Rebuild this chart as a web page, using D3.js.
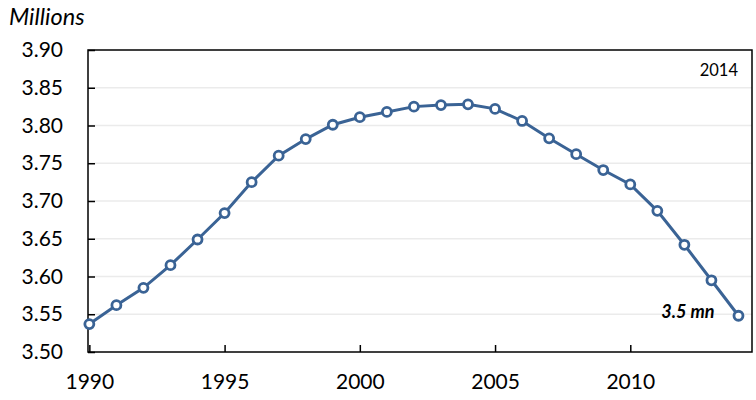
<!DOCTYPE html>
<html>
<head>
<meta charset="utf-8">
<script src="https://cdn.jsdelivr.net/npm/d3@7"></script>
<style>
body { margin: 0; background: #fff; }
text { font-family: Lato, "Open Sans", sans-serif; fill: #000; }
</style>
</head>
<body>
<div id="chart"></div>
<script>
// data
const years = [1990, 1991, 1992, 1993, 1994, 1995, 1996, 1997, 1998, 1999, 2000, 2001,
  2002, 2003, 2004, 2005, 2006, 2007, 2008, 2009, 2010, 2011, 2012, 2013, 2014];
const population = [3.537, 3.562, 3.585, 3.615, 3.649, 3.684, 3.725, 3.760, 3.782, 3.801, 3.811, 3.818,
  3.825, 3.827, 3.828, 3.822, 3.806, 3.783, 3.762, 3.741, 3.722, 3.687, 3.642, 3.595, 3.548];
const yTicks = [3.50, 3.55, 3.60, 3.65, 3.70, 3.75, 3.80, 3.85, 3.90];
const xTicks = [1990, 1995, 2000, 2005, 2010];
const unitLabel = "Millions";
const yearLabel = "2014";
const endLabel = "3.5 mn";

const margin = {top: 50, right: 4, bottom: 48, left: 88},
width = 756 - margin.left - margin.right,
height = 400 - margin.top - margin.bottom;

const svg = d3.select("#chart")
.append("svg")
.attr("width", 756)
.attr("height", 400);

const g = svg.append("g")
.attr("transform", `translate(${margin.left},${margin.top})`);

const x = d3.scaleLinear()
.domain([1989.95, 2014.5])
.range([0, width]);

const y = d3.scaleLinear()
.domain([3.5, 3.9])
.range([height, 0]);

// gridlines
g.selectAll(".grid")
.data(yTicks.slice(1, -1))
.join("line")
.attr("x1", 0)
.attr("x2", width)
.attr("y1", d => y(d))
.attr("y2", d => y(d))
.attr("stroke", "#ebebeb")
.attr("stroke-width", 1.5);

// y axis: ticks pointing inwards
const yAxis = g.append("g")
.call(d3.axisLeft(y).tickValues(yTicks).tickFormat(d3.format(".2f")).tickSizeInner(-7).tickSizeOuter(0).tickPadding(25));
yAxis.select(".domain").remove();
yAxis.selectAll("line").attr("stroke", "#000").attr("stroke-width", 1.5);
yAxis.selectAll("text").style("font-size", "21px").attr("fill", "#000");

// x axis
const xAxis = g.append("g")
.attr("transform", `translate(0, ${height})`)
.call(d3.axisBottom(x).tickValues(xTicks).tickFormat(d3.format("d")).tickSizeInner(-7).tickSizeOuter(0).tickPadding(22));
xAxis.select(".domain").remove();
xAxis.selectAll("line").attr("stroke", "#000").attr("stroke-width", 1.5);
xAxis.selectAll("text").style("font-size", "21px").attr("fill", "#000");

// frame
g.append("rect")
.attr("x", 0)
.attr("y", 0)
.attr("width", width)
.attr("height", height)
.attr("fill", "none")
.attr("stroke", "#000")
.attr("stroke-width", 1.5);

const data = years.map((d, i) => ({year: d, value: population[i]}));

const line = d3.line()
.x(d => x(d.year))
.y(d => y(d.value));

g.append("path")
.datum(data)
.attr("d", line)
.attr("fill", "none")
.attr("stroke", "#3a6395")
.attr("stroke-width", 3);

g.selectAll(".pt")
.data(data)
.join("circle")
.attr("cx", d => x(d.year))
.attr("cy", d => y(d.value))
.attr("r", 4.5)
.attr("fill", "#fff")
.attr("stroke", "#3a6395")
.attr("stroke-width", 2.8);

// labels
svg.append("text")
.attr("x", 9)
.attr("y", 25)
.style("font-size", "23.5px")
.style("font-style", "italic")
.text(unitLabel);

g.append("text")
.attr("x", width - 14)
.attr("y", 26)
.attr("text-anchor", "end")
.style("font-size", "16.5px")
.text(yearLabel);

const last = data[data.length - 1];
g.append("text")
.attr("x", x(last.year) - 24)
.attr("y", y(last.value) + 2)
.attr("text-anchor", "end")
.style("font-size", "18px")
.style("font-style", "italic")
.style("font-weight", "bold")
.text(endLabel);
</script>
</body>
</html>
